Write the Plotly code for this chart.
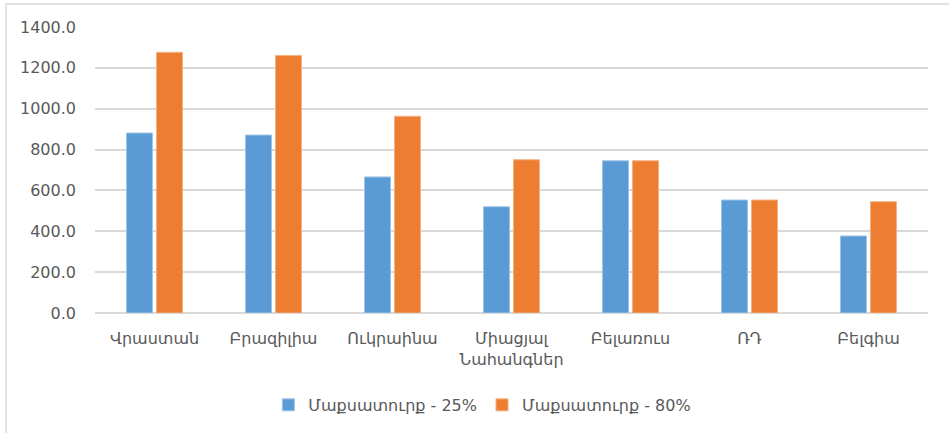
import plotly.graph_objects as go

categories = ["Վրաստան", "Բրազիլիա", "Ուկրաինա", "Միացյալ<br>Նահանգներ", "Բելառուս", "ՌԴ", "Բելգիա"]
series_25 = [881, 871, 666, 520, 745, 553, 377]
series_80 = [1276, 1261, 963, 750, 745, 553, 545]
name_25 = "Մաքսատուրք - 25%"
name_80 = "Մաքսատուրք - 80%"
y_ticks = [0, 200, 400, 600, 800, 1000, 1200, 1400]

font_family = "DejaVu Sans"
text_gray = "#595959"

fig = go.Figure()
fig.add_trace(go.Bar(
    x=categories, y=series_25, name=name_25,
    marker=dict(color="#5B9BD5", line=dict(color="#9DC3E6", width=1)),
))
fig.add_trace(go.Bar(
    x=categories, y=series_80, name=name_80,
    marker=dict(color="#ED7D31", line=dict(color="#F4B183", width=1)),
))

fig.update_layout(
    width=949, height=433,
    margin=dict(l=95, r=21, t=27, b=120, autoexpand=False),
    paper_bgcolor="white", plot_bgcolor="white",
    barmode="group", bargap=0.496, bargroupgap=0.133,
    font=dict(family=font_family, color=text_gray, size=16),
    showlegend=True,
    legend=dict(orientation="h", x=0.465, xanchor="center",
                yref="container", y=0.104, yanchor="top",
                font=dict(size=16, color=text_gray), itemwidth=30, traceorder="normal"),
    xaxis=dict(showline=False, showgrid=False, ticks="", automargin=False,
               ticklabelstandoff=14, tickfont=dict(size=16, color=text_gray)),
    yaxis=dict(range=[0, 1400], tickvals=y_ticks, tickformat=".1f", automargin=False,
               showgrid=True, gridcolor="#D9D9D9", gridwidth=1.5,
               zeroline=True, zerolinecolor="#D9D9D9", zerolinewidth=1.5,
               showline=False, ticks="", ticklabelstandoff=18,
               tickfont=dict(size=16, color=text_gray)),
    shapes=[dict(type="rect", xref="paper", yref="paper",
                 x0=-95 / 833 + 6 / 833, x1=1.2, y0=-0.6, y1=1 + 23 / 286,
                 line=dict(color="#D9D9D9", width=1.5), fillcolor="rgba(0,0,0,0)", layer="below")],
)

fig.write_html("out.html")
